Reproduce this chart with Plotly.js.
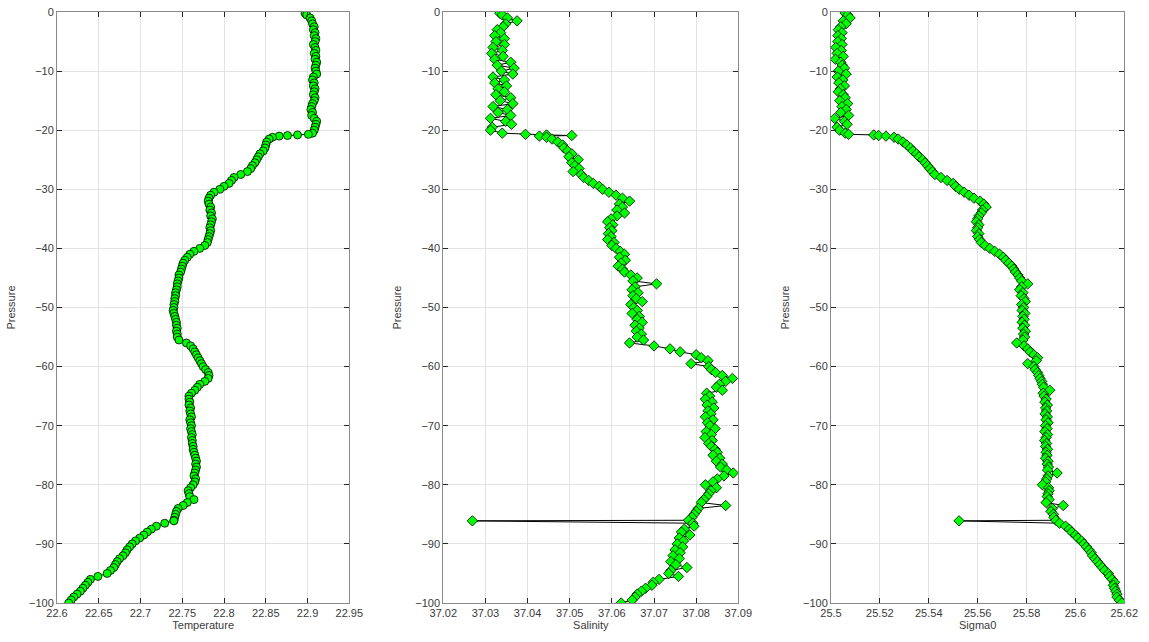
<!DOCTYPE html>
<html>
<head>
<meta charset="utf-8">
<script src="https://cdn.plot.ly/plotly-3.0.1.min.js"></script>
<style>
  html, body { margin: 0; padding: 0; background: #ffffff; }
  #chart { width: 1149px; height: 642px; }
</style>
</head>
<body>
<div id="chart"></div>
<script>
// CTD cast: pressure levels (dbar, negative downward) shared by all three profiles
const pressure = [
  -0.2, -0.5, -1.0, -1.5, -2.0, -2.5, -3.0, -3.5, -4.0, -4.5,
  -5.0, -5.5, -6.0, -6.5, -7.0, -7.5, -8.0, -8.5, -9.0, -9.5,
  -10.0, -10.5, -11.0, -11.5, -12.0, -12.5, -13.0, -13.5, -14.0, -14.5,
  -15.0, -15.5, -16.0, -16.5, -17.0, -17.5, -18.0, -18.5, -19.0, -19.5,
  -20.0, -20.5, -20.7, -20.8, -20.9, -21.0, -21.2, -21.5, -22.0, -22.5,
  -23.0, -23.5, -24.0, -24.5, -25.0, -25.5, -26.0, -26.5, -27.0, -27.5,
  -28.0, -28.5, -29.0, -29.5, -30.0, -30.5, -31.0, -31.5, -32.0, -32.5,
  -33.0, -33.5, -34.0, -34.5, -35.0, -35.5, -36.0, -36.5, -37.0, -37.5,
  -38.0, -38.5, -39.0, -39.5, -40.0, -40.5, -41.0, -41.5, -42.0, -42.5,
  -43.0, -43.5, -44.0, -44.5, -45.0, -45.5, -46.0, -46.5, -47.0, -47.5,
  -48.0, -48.5, -49.0, -49.5, -50.0, -50.5, -51.0, -51.5, -52.0, -52.5,
  -53.0, -53.5, -54.0, -54.5, -55.0, -55.5, -56.0, -56.5, -57.0, -57.5,
  -58.0, -58.5, -59.0, -59.5, -60.0, -60.5, -61.0, -61.5, -62.0, -62.5,
  -63.0, -63.5, -64.0, -64.5, -65.0, -65.5, -66.0, -66.5, -67.0, -67.5,
  -68.0, -68.5, -69.0, -69.5, -70.0, -70.5, -71.0, -71.5, -72.0, -72.5,
  -73.0, -73.5, -74.0, -74.5, -75.0, -75.5, -76.0, -76.5, -77.0, -77.5,
  -78.0, -78.5, -79.0, -79.5, -80.0, -80.5, -81.0, -81.5, -82.0, -82.5,
  -83.0, -83.5, -84.0, -84.5, -85.0, -85.5, -86.0, -86.1, -86.5, -87.0,
  -87.5, -88.0, -88.5, -89.0, -89.5, -90.0, -90.5, -91.0, -91.5, -92.0,
  -92.5, -93.0, -93.5, -94.0, -94.5, -95.0, -95.5, -96.0, -96.5, -97.0,
  -97.5, -98.0, -98.5, -99.0, -99.5, -100.0
];

// In-situ temperature (deg C)
const temperature = [
  22.897, 22.899, 22.903, 22.905, 22.906, 22.908, 22.907, 22.909, 22.908, 22.910,
  22.909, 22.907, 22.909, 22.910, 22.908, 22.910, 22.909, 22.911, 22.910, 22.909,
  22.910, 22.911, 22.907, 22.906, 22.908, 22.907, 22.909, 22.908, 22.907, 22.909,
  22.908, 22.906, 22.905, 22.904, 22.906, 22.905, 22.908, 22.911, 22.910, 22.909,
  22.908, 22.906, 22.901, 22.888, 22.876, 22.866, 22.858, 22.854, 22.851, 22.850,
  22.849, 22.847, 22.843, 22.841, 22.839, 22.837, 22.834, 22.832, 22.828, 22.820,
  22.812, 22.809, 22.806, 22.800, 22.795, 22.788, 22.784, 22.782, 22.781, 22.782,
  22.784, 22.783, 22.785, 22.784, 22.786, 22.785, 22.784, 22.783, 22.784, 22.783,
  22.782, 22.781, 22.780, 22.777, 22.771, 22.764, 22.759, 22.756, 22.753, 22.751,
  22.750, 22.749, 22.748, 22.746, 22.746, 22.745, 22.744, 22.744, 22.743, 22.742,
  22.742, 22.741, 22.741, 22.740, 22.740, 22.739, 22.740, 22.741, 22.742, 22.743,
  22.743, 22.744, 22.743, 22.744, 22.744, 22.746, 22.755, 22.760, 22.763, 22.765,
  22.767, 22.769, 22.771, 22.773, 22.775, 22.778, 22.781, 22.782, 22.781, 22.777,
  22.771, 22.768, 22.765, 22.761, 22.758, 22.758, 22.759, 22.758, 22.760, 22.759,
  22.760, 22.761, 22.759, 22.760, 22.761, 22.760, 22.761, 22.762, 22.761, 22.762,
  22.762, 22.763, 22.763, 22.764, 22.765, 22.766, 22.767, 22.766, 22.767, 22.766,
  22.765, 22.764, 22.766, 22.765, 22.763, 22.760, 22.757, 22.758, 22.759, 22.764,
  22.756, 22.751, 22.745, 22.743, 22.742, 22.741, 22.740, 22.740, 22.729, 22.719,
  22.713, 22.708, 22.704, 22.699, 22.694, 22.690, 22.687, 22.684, 22.682, 22.679,
  22.675, 22.672, 22.670, 22.668, 22.664, 22.660, 22.649, 22.640, 22.637, 22.634,
  22.631, 22.628, 22.624, 22.620, 22.617, 22.614
];

// Practical salinity
const salinity = [
  37.0334, 37.0340, 37.0352, 37.0375, 37.0348, 37.0342, 37.0328, 37.0336, 37.0322, 37.0345,
  37.0325, 37.0345, 37.0318, 37.0340, 37.0315, 37.0342, 37.0322, 37.0360, 37.0328, 37.0368,
  37.0338, 37.0365, 37.0318, 37.0345, 37.0322, 37.0350, 37.0330, 37.0345, 37.0325, 37.0360,
  37.0335, 37.0365, 37.0318, 37.0352, 37.0330, 37.0360, 37.0312, 37.0348, 37.0362, 37.0316,
  37.0312, 37.0340, 37.0395, 37.0445, 37.0505, 37.0428, 37.0445, 37.0458, 37.0472, 37.0483,
  37.0486, 37.0495, 37.0505, 37.0498, 37.0520, 37.0505, 37.0512, 37.0522, 37.0508, 37.0527,
  37.0533, 37.0545, 37.0556, 37.0570, 37.0578, 37.0593, 37.0610, 37.0625, 37.0642, 37.0618,
  37.0625, 37.0612, 37.0630, 37.0612, 37.0598, 37.0590, 37.0602, 37.0595, 37.0600, 37.0592,
  37.0598, 37.0590, 37.0605, 37.0600, 37.0610, 37.0620, 37.0630, 37.0618, 37.0632, 37.0622,
  37.0615, 37.0625, 37.0630, 37.0645, 37.0660, 37.0650, 37.0706, 37.0655, 37.0648, 37.0662,
  37.0650, 37.0658, 37.0672, 37.0645, 37.0652, 37.0660, 37.0648, 37.0665, 37.0660, 37.0672,
  37.0655, 37.0665, 37.0658, 37.0670, 37.0660, 37.0675, 37.0642, 37.0700, 37.0738, 37.0762,
  37.0800, 37.0812, 37.0828, 37.0788, 37.0830, 37.0836, 37.0846, 37.0862, 37.0886, 37.0870,
  37.0855, 37.0848, 37.0862, 37.0825, 37.0832, 37.0822, 37.0838, 37.0826, 37.0842, 37.0828,
  37.0835, 37.0822, 37.0840, 37.0827, 37.0833, 37.0845, 37.0824, 37.0836, 37.0821, 37.0838,
  37.0830, 37.0836, 37.0845, 37.0850, 37.0840, 37.0856, 37.0848, 37.0862, 37.0858, 37.0872,
  37.0888, 37.0866, 37.0850, 37.0840, 37.0822, 37.0848, 37.0835, 37.0830, 37.0825, 37.0818,
  37.0812, 37.0870, 37.0805, 37.0800, 37.0795, 37.0790, 37.0782, 37.0269, 37.0792, 37.0795,
  37.0772, 37.0765, 37.0785, 37.0760, 37.0770, 37.0755, 37.0768, 37.0750, 37.0762, 37.0745,
  37.0760, 37.0740, 37.0752, 37.0778, 37.0740, 37.0735, 37.0758, 37.0712, 37.0698, 37.0695,
  37.0680, 37.0670, 37.0660, 37.0655, 37.0648, 37.0622
];

// Potential density anomaly (kg/m^3 - 1000)
const sigma0 = [
  25.5058, 25.5068, 25.5078, 25.5050, 25.5062, 25.5040, 25.5030, 25.5045, 25.5028, 25.5042,
  25.5028, 25.5045, 25.5020, 25.5042, 25.5025, 25.5050, 25.5018, 25.5040, 25.5046, 25.5055,
  25.5030, 25.5062, 25.5026, 25.5048, 25.5032, 25.5055, 25.5038, 25.5030, 25.5050, 25.5058,
  25.5036, 25.5068, 25.5045, 25.5062, 25.5040, 25.5072, 25.5015, 25.5055, 25.5066, 25.5025,
  25.5035, 25.5058, 25.5072, 25.5175, 25.5195, 25.5225, 25.5258, 25.5275, 25.5295, 25.5310,
  25.5325, 25.5335, 25.5350, 25.5360, 25.5375, 25.5385, 25.5395, 25.5405, 25.5415, 25.5425,
  25.5450, 25.5475, 25.5500, 25.5510, 25.5525, 25.5545, 25.5565, 25.5585, 25.5610, 25.5625,
  25.5635, 25.5620, 25.5615, 25.5605, 25.5600, 25.5595, 25.5605, 25.5600, 25.5595, 25.5605,
  25.5600, 25.5608, 25.5615, 25.5630, 25.5650, 25.5670, 25.5690, 25.5705, 25.5715, 25.5728,
  25.5740, 25.5748, 25.5755, 25.5765, 25.5772, 25.5780, 25.5805, 25.5780, 25.5772, 25.5785,
  25.5778, 25.5790, 25.5795, 25.5780, 25.5788, 25.5782, 25.5793, 25.5785, 25.5790, 25.5782,
  25.5792, 25.5785, 25.5795, 25.5788, 25.5792, 25.5785, 25.5760, 25.5790, 25.5805, 25.5815,
  25.5830, 25.5845, 25.5840, 25.5805, 25.5830, 25.5835, 25.5845, 25.5850, 25.5855, 25.5862,
  25.5865, 25.5870, 25.5895, 25.5868, 25.5872, 25.5880, 25.5875, 25.5885, 25.5878, 25.5882,
  25.5876, 25.5885, 25.5880, 25.5888, 25.5878, 25.5884, 25.5875, 25.5886, 25.5880, 25.5874,
  25.5882, 25.5878, 25.5886, 25.5880, 25.5884, 25.5878, 25.5888, 25.5885, 25.5890, 25.5886,
  25.5925, 25.5888, 25.5882, 25.5878, 25.5865, 25.5890, 25.5892, 25.5888, 25.5885, 25.5892,
  25.5880, 25.5950, 25.5905, 25.5900, 25.5910, 25.5912, 25.5920, 25.5524, 25.5935, 25.5960,
  25.5975, 25.5985, 25.6000, 25.6010, 25.6025, 25.6035, 25.6045, 25.6055, 25.6065, 25.6070,
  25.6080, 25.6090, 25.6100, 25.6110, 25.6120, 25.6135, 25.6140, 25.6150, 25.6160, 25.6155,
  25.6160, 25.6165, 25.6170, 25.6170, 25.6180, 25.6190
];

// Axis settings for each panel
const xTitles = ['Temperature', 'Salinity', 'Sigma0'];
const xRanges = [[22.6, 22.95], [37.02, 37.09], [25.5, 25.62]];
const xSteps = [0.05, 0.01, 0.02];
const pressureRange = [-100, 0];
const pressureStep = 10;

const W = 1149, H = 642;
const panelsPx = [[57, 349.3], [443.3, 738.3], [831, 1124.3]];
const topPx = 12, bottomPx = 603;

const FONT = 'Liberation Sans, Arial, Helvetica, sans-serif';
const tickColor = '#3a3a3a';

function profileTrace(x, i, symbol, size) {
  const suffix = i === 0 ? '' : String(i + 1);
  return {
    type: 'scatter',
    mode: 'lines+markers',
    x: x,
    y: pressure,
    xaxis: 'x' + suffix,
    yaxis: 'y' + suffix,
    line: { color: '#000000', width: 1 },
    marker: {
      symbol: symbol,
      size: size,
      color: '#00ff00',
      line: { color: '#000000', width: 0.8 }
    },
    hoverinfo: 'x+y',
    showlegend: false
  };
}

const traces = [
  profileTrace(temperature, 0, 'circle', 8),
  profileTrace(salinity, 1, 'diamond', 8),
  profileTrace(sigma0, 2, 'diamond', 8)
];

const layout = {
  width: W,
  height: H,
  margin: { l: 0, r: 0, t: 0, b: 0 },
  paper_bgcolor: '#ffffff',
  plot_bgcolor: '#ffffff',
  font: { family: FONT, size: 11, color: tickColor },
  showlegend: false
};

const yDomain = [1 - bottomPx / H, 1 - topPx / H];

for (let i = 0; i < 3; i++) {
  const suffix = i === 0 ? '' : String(i + 1);
  const common = {
    showline: true,
    mirror: 'allticks',
    linecolor: '#8a8a8a',
    linewidth: 1,
    ticks: 'inside',
    ticklen: 5,
    tickwidth: 1,
    tickcolor: '#262626',
    showgrid: true,
    gridcolor: '#e3e3e3',
    gridwidth: 1,
    zeroline: false,
    tickfont: { family: FONT, size: 11, color: tickColor }
  };
  layout['xaxis' + suffix] = Object.assign({}, common, {
    domain: [panelsPx[i][0] / W, panelsPx[i][1] / W],
    anchor: 'y' + suffix,
    range: xRanges[i],
    dtick: xSteps[i],
    tick0: xRanges[i][0],
    title: { text: xTitles[i], font: { family: FONT, size: 11, color: tickColor }, standoff: 3 }
  });
  layout['yaxis' + suffix] = Object.assign({}, common, {
    domain: yDomain,
    anchor: 'x' + suffix,
    range: pressureRange,
    dtick: pressureStep,
    tick0: 0,
    title: { text: 'Pressure', font: { family: FONT, size: 11, color: tickColor }, standoff: 11 }
  });
}

Plotly.newPlot('chart', traces, layout, { displayModeBar: false, staticPlot: true });
</script>
</body>
</html>
